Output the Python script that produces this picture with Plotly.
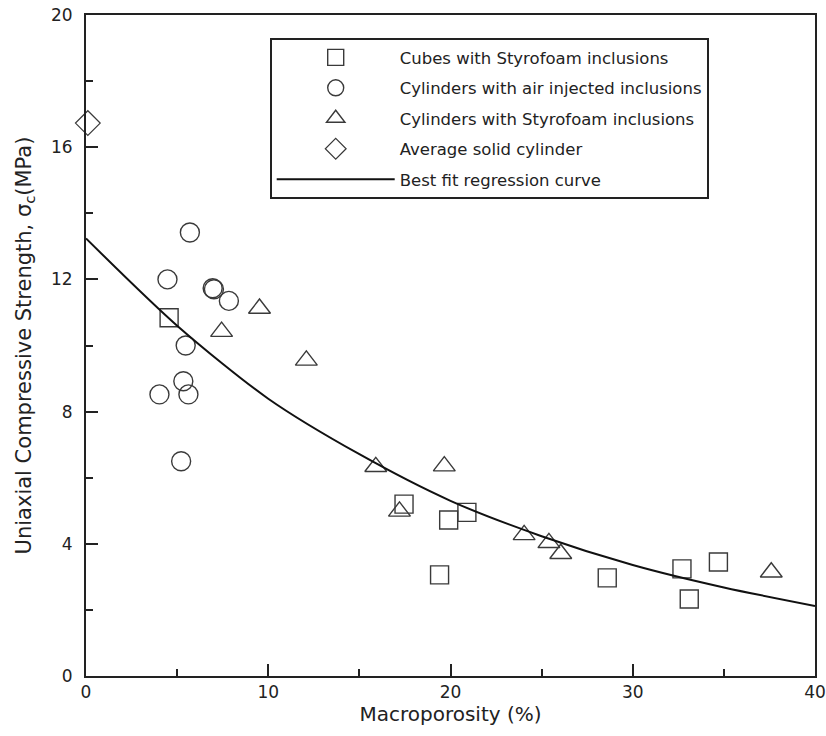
import plotly.graph_objects as go

# Cubes with Styrofoam inclusions
cube_x = [4.56, 17.45, 19.9, 20.9, 19.4, 28.6, 32.7, 33.1, 34.7]
cube_y = [10.84, 5.2, 4.72, 4.95, 3.06, 2.97, 3.24, 2.33, 3.45]

# Cylinders with air injected inclusions
air_x = [5.7, 4.47, 6.95, 7.02, 7.84, 5.47, 5.34, 5.62, 4.03, 5.22]
air_y = [13.42, 12.0, 11.73, 11.70, 11.35, 10.0, 8.92, 8.52, 8.52, 6.5]

# Cylinders with Styrofoam inclusions
sty_x = [7.44, 9.52, 12.09, 15.9, 17.2, 19.66, 24.04, 25.4, 26.05, 37.6]
sty_y = [10.42, 11.12, 9.55, 6.33, 4.98, 6.35, 4.27, 4.03, 3.7, 3.14]

# Average solid cylinder
solid_x = [0.1]
solid_y = [16.73]

# Best fit regression curve
fit_x = [0, 5, 10, 15, 20, 25, 30, 35, 40]
fit_y = [13.24, 10.6, 8.39, 6.71, 5.30, 4.23, 3.36, 2.68, 2.12]

names = [
    "Cubes with Styrofoam inclusions",
    "Cylinders with air injected inclusions",
    "Cylinders with Styrofoam inclusions",
    "Average solid cylinder",
    "Best fit regression curve",
]

FONT = "DejaVu Sans, Arial, sans-serif"
mcol = "#3a3a3a"
axcol = "#222222"

fig = go.Figure()
fig.add_trace(go.Scatter(x=cube_x, y=cube_y, mode="markers", name=names[0],
                         legendgroup="a",
                         marker=dict(symbol="square-open", size=18, color=mcol, line=dict(width=1.4))))
fig.add_trace(go.Scatter(x=air_x, y=air_y, mode="markers", name=names[1],
                         legendgroup="b",
                         marker=dict(symbol="circle-open", size=19, color=mcol, line=dict(width=1.4))))
fig.add_trace(go.Scatter(x=sty_x, y=sty_y, mode="markers", name=names[2],
                         legendgroup="c",
                         marker=dict(symbol="triangle-up-open", size=19, color=mcol, line=dict(width=1.4))))
fig.add_trace(go.Scatter(x=solid_x, y=solid_y, mode="markers", name=names[3],
                         legendgroup="d", cliponaxis=False,
                         marker=dict(symbol="diamond-open", size=19, color=mcol, line=dict(width=1.2))))
fig.add_trace(go.Scatter(x=fit_x, y=fit_y, mode="lines", name=names[4],
                         legendgroup="e",
                         line=dict(color="#111111", width=2, shape="spline", smoothing=0.8)))

axis_common = dict(
    showline=True, linecolor=axcol, linewidth=2, mirror=True,
    ticks="inside", ticklen=12, tickwidth=2, tickcolor=axcol,
    showgrid=False, zeroline=False, automargin=False,
    tickfont=dict(family=FONT, size=17, color=axcol),
)

fig.update_layout(
    width=826, height=736,
    margin=dict(l=86, r=11, t=15, b=60),
    paper_bgcolor="white", plot_bgcolor="white",
    font=dict(family=FONT, color=axcol),
    xaxis=dict(range=[0, 40], tickvals=[0, 10, 20, 30, 40],
               minor=dict(tickvals=[5, 15, 25, 35], ticks="inside", ticklen=7, tickwidth=2, tickcolor=axcol),
               title=dict(text="Macroporosity (%)", font=dict(size=20, family=FONT), standoff=5),
               **axis_common),
    yaxis=dict(range=[0, 20], tickvals=[0, 4, 8, 12, 16, 20],
               minor=dict(tickvals=[2, 6, 10, 14, 18], ticks="inside", ticklen=7, tickwidth=2, tickcolor=axcol),
               ticklabelstandoff=8,
               title=dict(text="Uniaxial Compressive Strength, σ<sub>c</sub>(MPa)",
                          font=dict(size=21, family=FONT), standoff=14),
               **axis_common),
    legend=dict(x=0.252, y=0.965, xanchor="left", yanchor="top",
                bordercolor=axcol, borderwidth=2, bgcolor="white",
                font=dict(size=16.5, color=axcol, family=FONT),
                traceorder="grouped", tracegroupgap=6, itemwidth=118),
)

fig.write_html("out.html")
